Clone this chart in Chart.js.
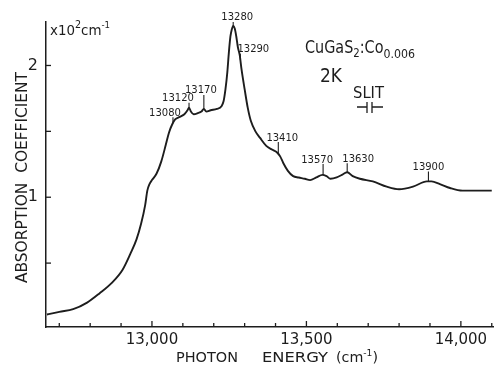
<!DOCTYPE html>
<html>
<head>
<meta charset="utf-8">
<script src="https://cdn.jsdelivr.net/npm/chart.js@4.4.1/dist/chart.umd.min.js"></script>
<style>
html, body { margin: 0; padding: 0; background: #fff; }
</style>
</head>
<body>
<canvas id="chart" width="496" height="368"></canvas>
<script>
// absorption spectrum CuGaS2:Co (x in cm-1, y in 10^2 cm-1)
var energy = [12660, 12700, 12745, 12790, 12830, 12870, 12905, 12930, 12950, 12965,
    12978, 12985, 12992, 13000, 13015, 13030, 13045, 13055, 13065, 13075,
    13090, 13105, 13115, 13120, 13126, 13135, 13150, 13160, 13168, 13176,
    13190, 13210, 13225, 13232, 13238, 13244, 13249, 13254, 13258, 13263,
    13268, 13273, 13278, 13284, 13290, 13300, 13310, 13320, 13335, 13350,
    13370, 13390, 13405, 13415, 13425, 13440, 13457, 13475, 13495, 13512,
    13532, 13552, 13565, 13578, 13598, 13615, 13632, 13650, 13673, 13715,
    13760, 13800, 13845, 13890, 13905, 13932, 13965, 14005, 14040, 14100];
var absorption = [0.11, 0.13, 0.15, 0.20, 0.27, 0.35, 0.45, 0.57, 0.68, 0.80,
    0.94, 1.05, 1.10, 1.13, 1.18, 1.27, 1.40, 1.49, 1.55, 1.59,
    1.61, 1.63, 1.66, 1.68, 1.65, 1.63, 1.64, 1.65, 1.67, 1.65,
    1.66, 1.67, 1.69, 1.73, 1.82, 1.95, 2.10, 2.22, 2.27, 2.30,
    2.28, 2.22, 2.14, 2.08, 1.97, 1.82, 1.68, 1.58, 1.50, 1.45,
    1.39, 1.36, 1.34, 1.31, 1.26, 1.20, 1.16, 1.15, 1.14, 1.13,
    1.15, 1.17, 1.16, 1.14, 1.15, 1.17, 1.19, 1.16, 1.14, 1.12,
    1.08, 1.06, 1.08, 1.12, 1.12, 1.10, 1.07, 1.05, 1.05, 1.05];

var peakLabels = ['13080', '13120', '13170', '13280', '13290', '13410', '13570', '13630', '13900'];
var peakEnergy = [13068, 13120, 13168, 13263, 13286, 13409, 13554, 13632, 13895];

var xTicks = [12700, 12800, 12900, 13000, 13100, 13200, 13300, 13400, 13500,
    13600, 13700, 13800, 13900, 14000, 14100];
var xMajorTicks = [13000, 13500, 14000];
var yTicks = [0.5, 1, 1.5, 2];
var yMajorTicks = [1, 2];

var INK = '#1d1d1d';
var FONT = '"DejaVu Sans", sans-serif';

function curveAt(x) {
    for (var i = 1; i < energy.length; i++) {
        if (energy[i] >= x) {
            var t = (x - energy[i - 1]) / (energy[i] - energy[i - 1]);
            return absorption[i - 1] + t * (absorption[i] - absorption[i - 1]);
        }
    }
    return absorption[absorption.length - 1];
}

// text squeezed to a given width, left edge at x
function fitText(ctx, text, size, x, y, width) {
    ctx.font = size + 'px ' + FONT;
    var w = ctx.measureText(text).width;
    ctx.save();
    ctx.translate(x, y);
    ctx.scale(width / w, 1);
    ctx.textAlign = 'left';
    ctx.fillText(text, 0, 0);
    ctx.restore();
}

// parts: [text, size, dy]
function richText(ctx, parts, x, y, width) {
    var total = 0;
    parts.forEach(function (p) {
        ctx.font = p[1] + 'px ' + FONT;
        total += ctx.measureText(p[0]).width;
    });
    ctx.save();
    ctx.translate(x, y);
    ctx.scale(width / total, 1);
    ctx.textAlign = 'left';
    var cx = 0;
    parts.forEach(function (p) {
        ctx.font = p[1] + 'px ' + FONT;
        ctx.fillText(p[0], cx, p[2]);
        cx += ctx.measureText(p[0]).width;
    });
    ctx.restore();
}

var decorPlugin = {
    id: 'decor',
    afterDraw: function (chart) {
        var ctx = chart.ctx;
        var xs = chart.scales.x;
        var ys = chart.scales.y;
        var area = chart.chartArea;
        ctx.save();
        ctx.strokeStyle = INK;
        ctx.fillStyle = INK;
        ctx.lineWidth = 1.3;
        ctx.textBaseline = 'alphabetic';

        // inward tick marks
        xTicks.forEach(function (v) {
            var px = xs.getPixelForValue(v);
            var len = xMajorTicks.indexOf(v) >= 0 ? 6 : 4;
            ctx.beginPath();
            ctx.moveTo(px, area.bottom);
            ctx.lineTo(px, area.bottom - len);
            ctx.stroke();
        });
        yTicks.forEach(function (v) {
            var py = ys.getPixelForValue(v);
            ctx.beginPath();
            ctx.moveTo(area.left, py);
            ctx.lineTo(area.left + 5, py);
            ctx.stroke();
        });

        // peak markers: [label dx, mark length]
        var markStyle = [[-8, 6], [-11, 5], [-3, 14], [4, 4], [13, 6], [4, 12], [-6, 11], [11, 9], [0, 10]];
        ctx.lineWidth = 1.1;
        peakEnergy.forEach(function (e, i) {
            var px = xs.getPixelForValue(e);
            var py = ys.getPixelForValue(curveAt(e));
            var top = py - markStyle[i][1];
            ctx.beginPath();
            ctx.moveTo(px, py);
            ctx.lineTo(px, top);
            ctx.stroke();
            ctx.font = '10px ' + FONT;
            ctx.textAlign = 'center';
            ctx.fillText(peakLabels[i], px + markStyle[i][0], top - 1.5);
        });

        // unit at top of y axis
        richText(ctx, [['x10', 14, 0], ['2', 10, -7], ['cm', 14, 0], ['-1', 9, -7]], 50, 35, 60);

        // sample annotation
        richText(ctx, [['CuGaS', 17, 0], ['2', 12, 4], [':Co', 17, 0], ['0.006', 13, 5]], 305, 53, 110);
        fitText(ctx, '2K', 19, 320, 82, 22);
        fitText(ctx, 'SLIT', 15, 353, 98, 31);
        ctx.lineWidth = 1.3;
        ctx.beginPath();
        ctx.moveTo(357, 107); ctx.lineTo(367, 107);
        ctx.moveTo(367, 102); ctx.lineTo(367, 113);
        ctx.moveTo(372, 102); ctx.lineTo(372, 113);
        ctx.moveTo(372, 107); ctx.lineTo(383, 107);
        ctx.stroke();

        // axis titles
        fitText(ctx, 'PHOTON', 14, 176, 362, 62);
        fitText(ctx, 'ENERGY', 14, 262, 362, 66);
        richText(ctx, [['(cm', 14, 0], ['-1', 9, -6], [')', 14, 0]], 336, 362, 42);

        ctx.save();
        ctx.translate(27, 283);
        ctx.rotate(-Math.PI / 2);
        fitText(ctx, 'ABSORPTION  COEFFICIENT', 16, 0, 0, 211);
        ctx.restore();

        ctx.restore();
    }
};

var chart = new Chart(document.getElementById('chart'), {
    type: 'line',
    data: {
        datasets: [{
            data: energy.map(function (e, i) { return {x: e, y: absorption[i]}; }),
            borderColor: INK,
            borderWidth: 1.9,
            pointRadius: 0,
            cubicInterpolationMode: 'monotone',
            fill: false
        }]
    },
    options: {
        responsive: false,
        animation: false,
        layout: {padding: {top: 22, right: 3, left: 0, bottom: 0}},
        plugins: {legend: {display: false}, tooltip: {enabled: false}},
        scales: {
            x: {
                type: 'linear',
                min: 12657,
                max: 14104,
                grid: {display: false, drawTicks: false},
                border: {display: true, color: INK, width: 1.5},
                afterBuildTicks: function (s) {
                    s.ticks = xTicks.map(function (v) { return {value: v}; });
                },
                afterFit: function (s) { s.height = 41; },
                ticks: {
                    autoSkip: false,
                    maxRotation: 0,
                    padding: 4,
                    color: INK,
                    font: {family: FONT, size: 15},
                    callback: function (v) {
                        return xMajorTicks.indexOf(v) >= 0 ? v.toLocaleString('en-US') : '';
                    }
                }
            },
            y: {
                min: 0.015,
                max: 2.33,
                grid: {display: false, drawTicks: false},
                border: {display: true, color: INK, width: 1.5},
                afterBuildTicks: function (s) {
                    s.ticks = yTicks.map(function (v) { return {value: v}; });
                },
                afterFit: function (s) { s.width = 46; },
                ticks: {
                    autoSkip: false,
                    padding: 8,
                    color: INK,
                    font: {family: FONT, size: 16},
                    callback: function (v) {
                        return yMajorTicks.indexOf(v) >= 0 ? String(v) : '';
                    }
                }
            }
        }
    },
    plugins: [decorPlugin]
});
</script>
</body>
</html>
